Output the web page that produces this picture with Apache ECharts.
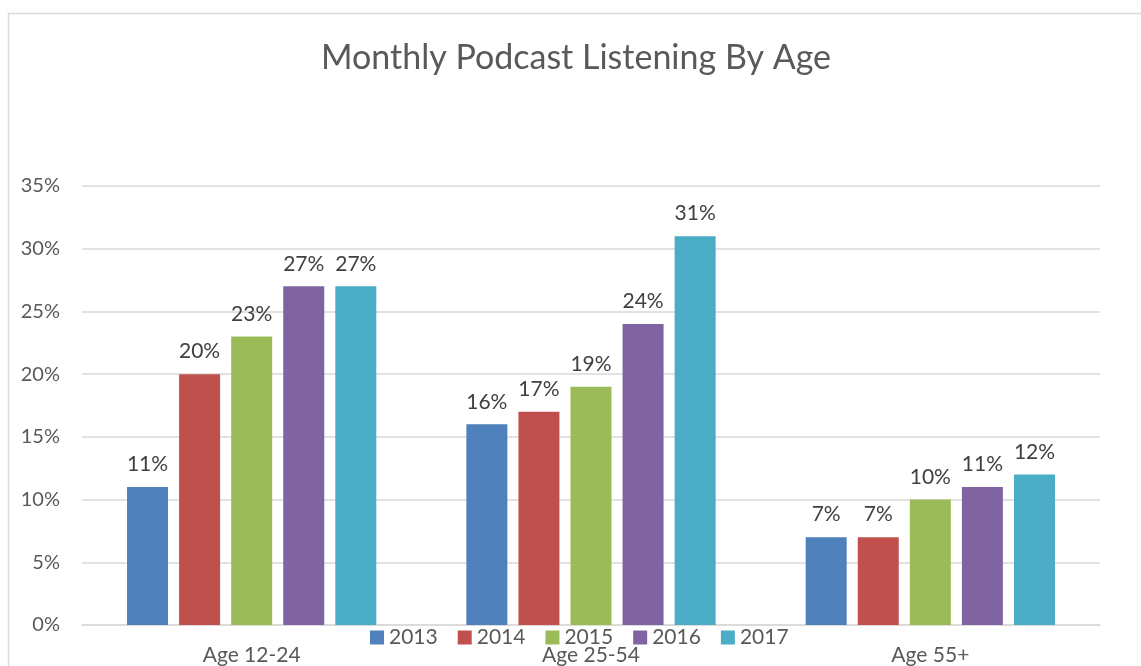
<!DOCTYPE html>
<html><head><meta charset="utf-8">
<script src="https://cdn.jsdelivr.net/npm/echarts@6/dist/echarts.min.js"></script>
<style>html,body{margin:0;padding:0;background:#fff}#c{width:1141px;height:666px}</style>
</head><body><div id="c"></div>
<script>
const categories = ['Age 12-24', 'Age 25-54', 'Age 55+'];
const years = ['2013', '2014', '2015', '2016', '2017'];
const v2013 = [11, 16, 7];
const v2014 = [20, 17, 7];
const v2015 = [23, 19, 10];
const v2016 = [27, 24, 11];
const v2017 = [27, 31, 12];
const colors = ['#4F81BD', '#C0504D', '#9BBB59', '#8064A2', '#4BACC6'];
const seriesValues = [v2013, v2014, v2015, v2016, v2017];
const FONT = 'Lato, "Open Sans", sans-serif';

const chart = echarts.init(document.getElementById('c'));
chart.setOption({
  animation: false,
  textStyle: { fontFamily: FONT },
  graphic: [{
    type: 'rect', silent: true,
    shape: { x: 8.5, y: 13.5, width: 1200, height: 700 },
    style: { fill: 'none', stroke: '#d9d9d9', lineWidth: 1.5 }
  }],
  title: {
    text: 'Monthly Podcast Listening By Age', left: 571, textAlign: 'center', top: 36,
    textStyle: { fontSize: 34, fontWeight: 'normal', color: '#595959', fontFamily: FONT }
  },
  legend: {
    data: years, top: 622, left: 365, itemWidth: 14, itemHeight: 14, itemGap: 20,
    icon: 'rect',
    textStyle: { fontSize: 21, color: '#595959', fontFamily: FONT }
  },
  grid: { left: 82, right: 41, top: 186, bottom: 40 },
  xAxis: {
    type: 'category', data: categories,
    axisLine: { lineStyle: { color: '#d9d9d9', width: 1.5 } },
    axisTick: { show: false },
    axisLabel: { fontSize: 21, color: '#595959', margin: 20, fontFamily: FONT }
  },
  yAxis: {
    type: 'value', min: 0, max: 35, interval: 5,
    axisLine: { show: false }, axisTick: { show: false },
    splitLine: { lineStyle: { color: '#d9d9d9', width: 1.5 } },
    axisLabel: { fontSize: 20, color: '#595959', margin: 22, formatter: '{value}%', fontFamily: FONT }
  },
  series: years.map((y, i) => ({
    name: y, type: 'bar', data: seriesValues[i],
    barWidth: 41, barGap: '27%',
    itemStyle: { color: colors[i] },
    label: { show: true, position: 'top', distance: 12, formatter: '{c}%', fontSize: 21, color: '#404040', fontFamily: FONT }
  }))
});
</script></body></html>
